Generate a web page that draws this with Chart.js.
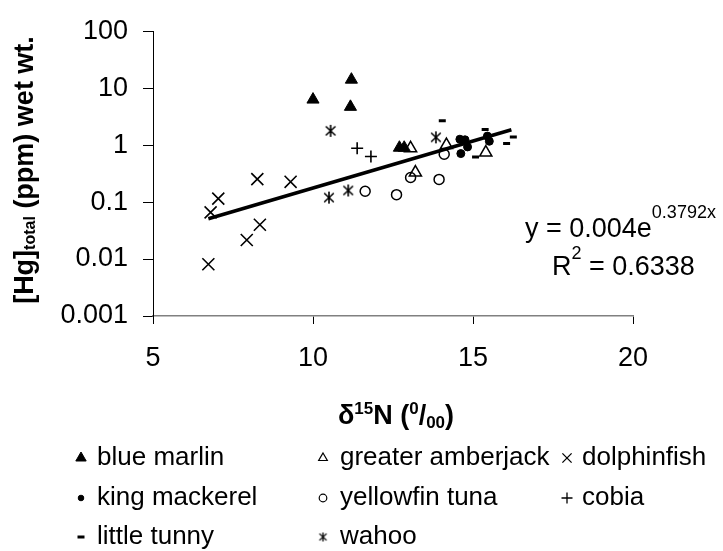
<!DOCTYPE html>
<html>
<head>
<meta charset="utf-8">
<script src="https://cdn.jsdelivr.net/npm/chart.js@4/dist/chart.umd.min.js"></script>
<style>
  html, body { margin: 0; padding: 0; background: #fff; }
  #wrap { width: 723px; height: 551px; }
</style>
</head>
<body>
<div id="wrap"><canvas id="hgChart" width="723" height="551"></canvas></div>
<script>
// values (d15N in per mil, Hg in ppm wet wt.)
const blueMarlinX = [10.0, 11.2, 11.17, 12.7, 12.85];
const blueMarlinY = [6.3, 14.1, 4.7, 0.9, 0.9];
const amberjackX = [13.05, 13.2, 14.17, 15.4];
const amberjackY = [0.88, 0.33, 1.0, 0.74];
const dolphinX = [6.73, 6.8, 7.04, 7.93, 8.26, 8.34, 9.3];
const dolphinY = [0.0081, 0.066, 0.115, 0.0216, 0.253, 0.040, 0.227];
const mackerelX = [14.59, 14.75, 14.83, 14.62, 15.51, 15.45];
const mackerelY = [1.27, 1.24, 0.93, 0.71, 1.17, 1.44];
const yellowfinX = [11.63, 12.61, 13.05, 13.94, 14.1];
const yellowfinY = [0.155, 0.135, 0.27, 0.25, 0.69];
const cobiaX = [11.38, 11.81];
const cobiaY = [0.88, 0.63];
const tunnyX = [14.04, 15.38, 16.26, 16.05, 15.08];
const tunnyY = [2.67, 1.88, 1.39, 1.07, 0.62];
const wahooX = [10.55, 10.5, 11.1, 13.84];
const wahooY = [1.78, 0.12, 0.16, 1.37];
const trendX = [6.73, 16.2];
const trendY = [0.051, 1.86];

const xTicks = [5, 10, 15, 20];
const yTicks = [0.001, 0.01, 0.1, 1, 10, 100];

const FONT = "'Liberation Sans', Arial, sans-serif";

function pts(xs, ys) {
    return xs.map((x, i) => ({ x: x, y: ys[i] }));
}

// six-armed asterisk used for wahoo
function makeAsterisk(size, lw) {
    const c = document.createElement('canvas');
    c.width = size;
    c.height = size;
    const g = c.getContext('2d');
    g.strokeStyle = '#000';
    g.lineWidth = lw;
    const m = size / 2, r = size / 2 - 1;
    g.beginPath();
    g.moveTo(m - r * 0.8, m - r * 0.75); g.lineTo(m + r * 0.8, m + r * 0.75);
    g.moveTo(m + r * 0.8, m - r * 0.75); g.lineTo(m - r * 0.8, m + r * 0.75);
    g.moveTo(m, m - r); g.lineTo(m, m + r);
    g.stroke();
    return c;
}
const wahooMark = makeAsterisk(14, 1.6);
const wahooLegend = makeAsterisk(11, 1.3);

function marker(label, xs, ys, style, radius, bw, fill, legend) {
    return {
        label: label,
        data: pts(xs, ys),
        pointStyle: style,
        pointRadius: radius,
        pointBorderWidth: bw,
        pointBorderColor: '#000',
        pointBackgroundColor: fill ? '#000' : 'rgba(0,0,0,0)',
        legendMark: legend
    };
}

// legend order is row by row, three columns
const datasets = [
    marker('blue marlin', blueMarlinX, blueMarlinY, 'triangle', 7, 1, true, { style: 'triangle', r: 6, bw: 1, fill: true }),
    marker('greater amberjack', amberjackX, amberjackY, 'triangle', 7, 1.5, false, { style: 'triangle', r: 5, bw: 1.2, fill: false }),
    marker('dolphinfish', dolphinX, dolphinY, 'crossRot', 8.5, 1.6, false, { style: 'crossRot', r: 6.5, bw: 1.3, fill: false }),
    marker('king mackerel', mackerelX, mackerelY, 'circle', 4, 1, true, { style: 'circle', r: 2.8, bw: 1, fill: true }),
    marker('yellowfin tuna', yellowfinX, yellowfinY, 'circle', 5, 1.5, false, { style: 'circle', r: 3.8, bw: 1.2, fill: false }),
    marker('cobia', cobiaX, cobiaY, 'cross', 6, 1.6, false, { style: 'cross', r: 5.5, bw: 1.3, fill: false }),
    marker('little tunny', tunnyX, tunnyY, 'line', 3.5, 3, false, { style: 'line', r: 3.5, bw: 3, fill: false }),
    marker('wahoo', wahooX, wahooY, wahooMark, 7, 1, false, { style: wahooLegend, r: 5, bw: 1, fill: false }),
    {
        type: 'line',
        label: 'trend',
        data: pts(trendX, trendY),
        borderColor: '#000',
        borderWidth: 3.5,
        pointRadius: 0,
        showLine: true,
        fill: false,
        legendMark: null
    }
];

// draw a row of text pieces with different sizes / offsets
function drawRuns(ctx, runs, x, y, align) {
    let total = 0;
    runs.forEach(r => {
        ctx.font = (r.bold ? 'bold ' : '') + r.size + 'px ' + FONT;
        r.w = ctx.measureText(r.text).width;
        total += r.w;
    });
    let cx = align === 'center' ? x - total / 2 : (align === 'right' ? x - total : x);
    runs.forEach(r => {
        ctx.font = (r.bold ? 'bold ' : '') + r.size + 'px ' + FONT;
        ctx.fillText(r.text, cx, y + (r.dy || 0));
        cx += r.w;
    });
}

const textPlugin = {
    id: 'textPlugin',
    afterDraw(chart) {
        const ctx = chart.ctx;
        ctx.save();
        ctx.fillStyle = '#000';
        ctx.textBaseline = 'alphabetic';
        ctx.textAlign = 'left';

        // y axis title
        ctx.save();
        ctx.translate(33, 170);
        ctx.rotate(-Math.PI / 2);
        drawRuns(ctx, [
            { text: '[Hg]', size: 27, bold: true },
            { text: 'total', size: 16, bold: true, dy: 2 },
            { text: ' (ppm) wet wt.', size: 27, bold: true }
        ], 0, 0, 'center');
        ctx.restore();

        // x axis title
        drawRuns(ctx, [
            { text: 'δ', size: 27, bold: true },
            { text: '15', size: 17, bold: true, dy: -10 },
            { text: 'N (', size: 27, bold: true },
            { text: '0', size: 17, bold: true, dy: -10 },
            { text: '/', size: 27, bold: true },
            { text: '00', size: 17, bold: true, dy: 4 },
            { text: ')', size: 27, bold: true }
        ], 396, 424, 'center');

        // trendline equation
        drawRuns(ctx, [
            { text: 'y = 0.004e', size: 27 },
            { text: '0.3792x', size: 18, dy: -19 }
        ], 525, 237, 'left');
        drawRuns(ctx, [
            { text: 'R', size: 27 },
            { text: '2', size: 18, dy: -16 },
            { text: ' = 0.6338', size: 27 }
        ], 552, 275, 'left');

        // legend
        const colMark = [81, 323, 567];
        const colText = [97, 340, 582];
        const rowY = [458, 498, 537];
        const drawPoint = Chart.helpers && Chart.helpers.drawPoint;
        let k = 0;
        chart.data.datasets.forEach(ds => {
            if (!ds.legendMark) return;
            const col = k % 3, row = Math.floor(k / 3);
            const lm = ds.legendMark;
            const y = rowY[row];
            ctx.fillStyle = lm.fill ? '#000' : 'rgba(0,0,0,0)';
            ctx.strokeStyle = '#000';
            ctx.lineWidth = lm.bw;
            if (drawPoint) {
                drawPoint(ctx, { pointStyle: lm.style, radius: lm.r, rotation: 0, borderWidth: lm.bw }, colMark[col], y);
            }
            ctx.fillStyle = '#000';
            ctx.font = '26px ' + FONT;
            ctx.textBaseline = 'middle';
            ctx.fillText(ds.label, colText[col], y);
            ctx.textBaseline = 'alphabetic';
            k++;
        });
        ctx.restore();
    }
};

new Chart(document.getElementById('hgChart').getContext('2d'), {
    type: 'scatter',
    data: { datasets: datasets },
    options: {
        responsive: false,
        animation: false,
        layout: { padding: { top: 23, right: 90, bottom: 145, left: 0 } },
        plugins: {
            legend: { display: false },
            tooltip: { enabled: false }
        },
        scales: {
            x: {
                type: 'linear',
                min: 5,
                max: 20,
                afterBuildTicks: s => { s.ticks = xTicks.map(v => ({ value: v })); },
                afterFit: s => { s.height = 90; },
                grid: { drawOnChartArea: false, drawTicks: true, tickLength: 8, color: '#000' },
                border: { display: true, color: '#808080', width: 1.5 },
                ticks: {
                    color: '#000',
                    font: { family: FONT, size: 27 },
                    padding: 18,
                    maxRotation: 0,
                    autoSkip: false
                }
            },
            y: {
                type: 'logarithmic',
                min: 0.001,
                max: 100,
                afterBuildTicks: s => { s.ticks = yTicks.map(v => ({ value: v })); },
                afterFit: s => { s.width = 153; },
                grid: { drawOnChartArea: false, drawTicks: true, tickLength: 10, color: '#000' },
                border: { display: true, color: '#000', width: 1 },
                ticks: {
                    color: '#000',
                    font: { family: FONT, size: 27 },
                    padding: 15,
                    autoSkip: false,
                    callback: v => String(v)
                }
            }
        }
    },
    plugins: [textPlugin]
});
</script>
</body>
</html>
